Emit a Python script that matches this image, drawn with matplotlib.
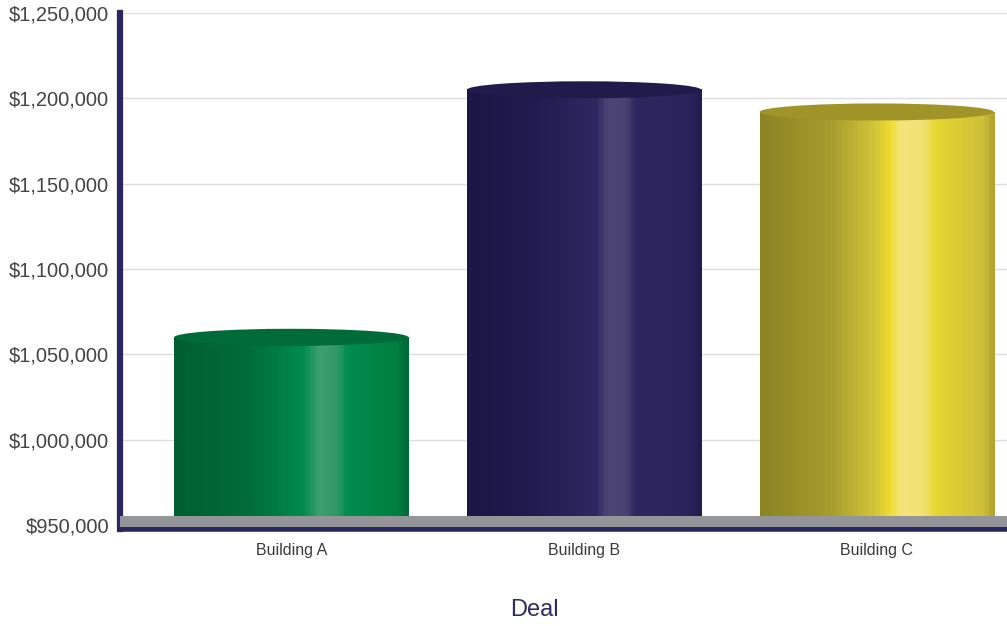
import numpy as np
import matplotlib
matplotlib.use('Agg')
import matplotlib.pyplot as plt
from matplotlib.colors import LinearSegmentedColormap
from matplotlib.patches import Ellipse, Rectangle
from matplotlib.ticker import FuncFormatter
import matplotlib.transforms as mtransforms

# data
buildings = ['Building A', 'Building B', 'Building C']
deal_values = [1060000, 1205000, 1192000]
y_ticks = [950000, 1000000, 1050000, 1100000, 1150000, 1200000, 1250000]

# cylinder shading: (position across bar, colour)
shades = {
    'Building A': [(0.0, '#005e30'), (0.3, '#006b3a'), (0.55, '#008a4e'),
                   (0.62, '#3f9f70'), (0.7, '#2f9866'), (0.74, '#008c50'),
                   (0.95, '#00803f'), (1.0, '#006a36')],
    'Building B': [(0.0, '#1c1646'), (0.3, '#221c50'), (0.55, '#2e2862'),
                   (0.6, '#4c4474'), (0.68, '#4a4270'), (0.72, '#2c275f'),
                   (0.95, '#29245c'), (1.0, '#221d4f')],
    'Building C': [(0.0, '#8c8424'), (0.3, '#a69c2e'), (0.5, '#d6c838'),
                   (0.55, '#eedc2c'), (0.6, '#f4e47a'), (0.7, '#f2e274'),
                   (0.75, '#e6d632'), (0.95, '#d0c03a'), (1.0, '#b0a42e')],
}
tops = {'Building A': '#006a38', 'Building B': '#211b4c', 'Building C': '#a09428'}

navy = '#2a2760'
ymin, ymax = 947700, 1250000
bar_w = 0.8
ell_h = 10000

fig = plt.figure(figsize=(10.07, 6.26), dpi=100)
ax = fig.add_axes([120 / 1007, 1 - 529 / 626, 1 - 120 / 1007, (529 - 13) / 626])

x = np.arange(len(buildings))
for xi, name, val in zip(x, buildings, deal_values):
    cmap = LinearSegmentedColormap.from_list(name, shades[name])
    grad = np.linspace(0, 1, 300)[None, :]
    # a few faint vertical streaks for the brushed look
    streak = np.zeros_like(grad)
    idx = np.arange(0, 300, 7)
    streak[0, idx] = 0.015
    ax.imshow(np.clip(grad + streak, 0, 1), cmap=cmap, aspect='auto',
              extent=(xi - bar_w / 2, xi + bar_w / 2, ymin, val),
              interpolation='bilinear', zorder=2)
    ax.add_patch(Ellipse((xi, val), bar_w, ell_h, facecolor=tops[name],
                         edgecolor='none', zorder=3))

ax.set_xlim(-0.585, 2.445)
ax.set_ylim(ymin, ymax)

# grey floor strip
trans = mtransforms.blended_transform_factory(ax.transAxes, ax.transAxes)
ax.add_patch(Rectangle((0, 2 / 516), 1, 11 / 516, transform=trans,
                       facecolor='#939598', edgecolor='none', zorder=4))

ax.set_yticks(y_ticks)
ax.yaxis.set_major_formatter(FuncFormatter(lambda v, p: '${:,.0f}'.format(v)))
ax.set_xticks(x)
ax.set_xticklabels(buildings, fontsize=11.5, color='#3a3a3a',
                   family='Liberation Sans')
ax.tick_params(axis='y', length=0, pad=8, labelsize=14.5, labelcolor='#444444')
ax.tick_params(axis='x', length=0, pad=10)
for lab in ax.get_yticklabels():
    lab.set_family('Liberation Sans')

ax.grid(axis='y', color='#dddddd', linewidth=1, zorder=0)
ax.set_axisbelow(True)
for s in ['top', 'right']:
    ax.spines[s].set_visible(False)
ax.spines['left'].set_color(navy)
ax.spines['left'].set_linewidth(4.5)
ax.spines['bottom'].set_color(navy)
ax.spines['bottom'].set_linewidth(4)

fig.text(534 / 1007, 1 - 610 / 626, 'Deal', ha='center', va='center',
         fontsize=17, color='#2e2a63', family='Liberation Sans')

fig.savefig('out.png', dpi=100)
